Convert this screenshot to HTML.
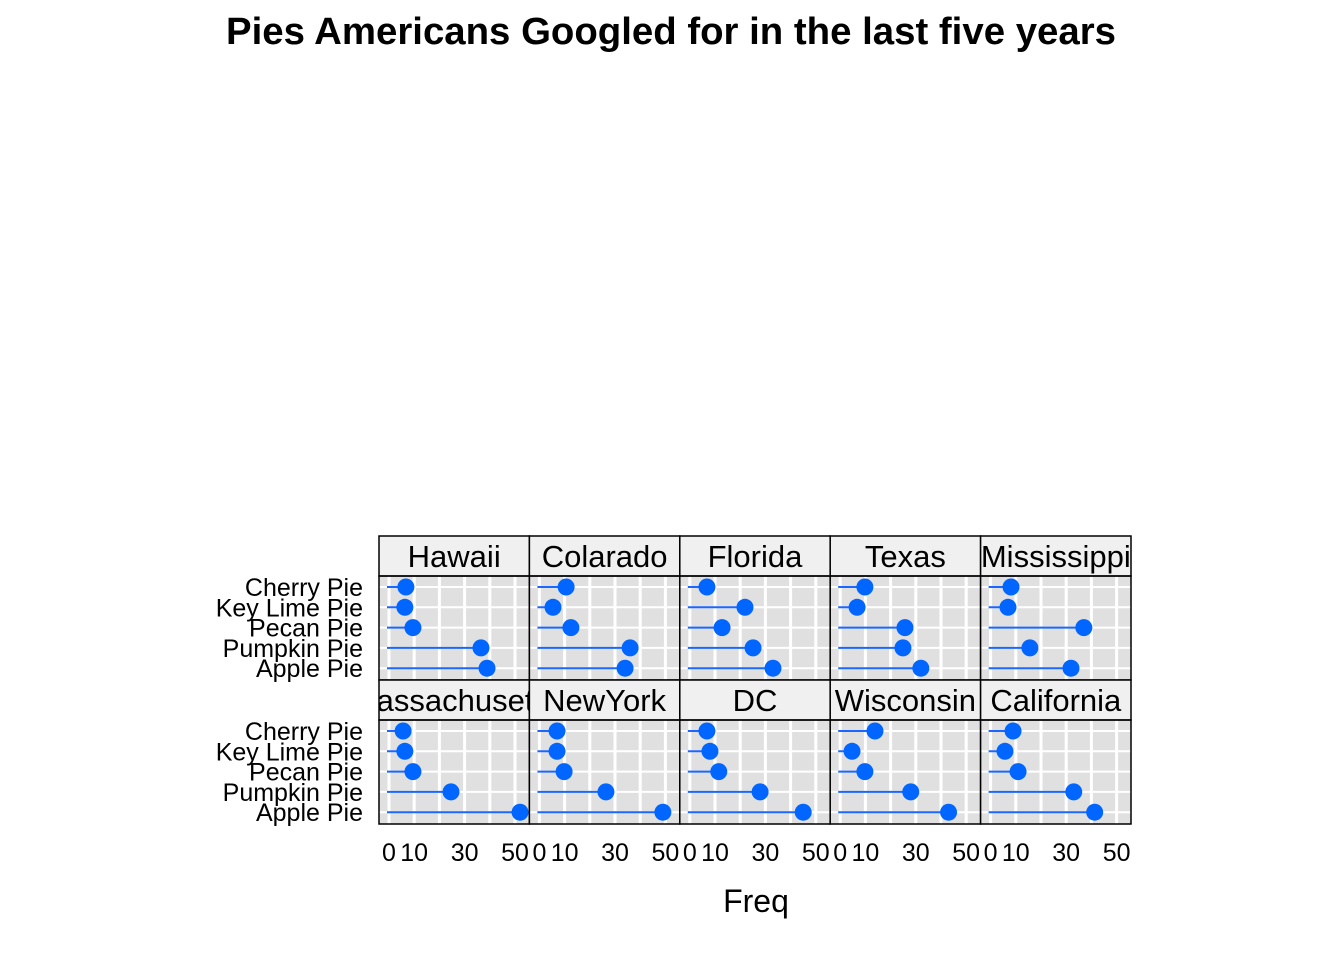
<!DOCTYPE html>
<html><head><meta charset="utf-8"><style>
body{margin:0;background:#fff;}
svg{display:block;font-family:"Liberation Sans",Arial,sans-serif;}
</style></head><body>
<svg id="chart" width="1344" height="960">
<text x="671" y="44" text-anchor="middle" font-size="38" font-weight="bold" textLength="890" lengthAdjust="spacingAndGlyphs">Pies Americans Googled for in the last five years</text>
<text x="756" y="912" text-anchor="middle" font-size="32">Freq</text>
<g id="plot"></g>
</svg>
<script>
const states = ["Hawaii","Colarado","Florida","Texas","Mississippi","Massachusetts","NewYork","DC","Wisconsin","California"];
const pies = ["Cherry Pie","Key Lime Pie","Pecan Pie","Pumpkin Pie","Apple Pie"];
const cherry = [6.7,10.6,6.8,9.8,8.1,5.6,7,6.8,13.8,8.9];
const keyLime = [6.3,5.4,21.9,6.7,6.9,6.3,7,8,4.7,5.7];
const pecan = [9.5,12.5,12.8,25.7,37,9.5,9.8,11.5,9.8,10.9];
const pumpkin = [36.5,36,25.1,24.9,15.6,24.6,26.4,27.9,28,33];
const apple = [38.9,34,33,32,31.9,52,49,45,43,41.3];
const xTicks = [0,10,30,50];
const gridTicks = [0,10,20,30,40,50];

const series = [cherry,keyLime,pecan,pumpkin,apple];
const NS="http://www.w3.org/2000/svg";
const g=document.getElementById('plot');
const L=379, PW=150.4, rowTop=[536,680], stripH=40, panelH=104;
function mk(t,a,p){const e=document.createElementNS(NS,t);for(const k in a)e.setAttribute(k,a[k]);(p||g).appendChild(e);return e;}
function xs(v,col){return L+col*PW+10+v*2.52;}
function ys(i,row){return rowTop[row]+stripH+11+i*20.3;}
for(let s=0;s<states.length;s++){
  const row=Math.floor(s/5), col=s%5;
  const px=L+col*PW, top=rowTop[row];
  const pg=mk('g',{});
  
  
  mk('rect',{x:px,y:top+stripH,width:PW,height:panelH,fill:'#e0e0e0'},pg);
  for(const t of gridTicks){mk('line',{x1:xs(t,col),x2:xs(t,col),y1:top+stripH,y2:top+stripH+panelH,stroke:'#fff','stroke-width':3},pg);}
  for(let i=0;i<pies.length;i++){mk('line',{x1:px,x2:px+PW,y1:ys(i,row),y2:ys(i,row),stroke:'#fff','stroke-width':2},pg);}
  const cp=mk('clipPath',{id:'c'+s},pg);
  mk('rect',{x:px,y:top+stripH,width:PW,height:panelH},cp);
  for(let i=0;i<pies.length;i++){
    const v=series[i][s];
    const ln=mk('line',{x1:xs(0,col)-2,x2:xs(v,col),y1:ys(i,row),y2:ys(i,row),stroke:'#1a66ff','stroke-width':2,'clip-path':'url(#c'+s+')'},pg);
    
    
    const c=mk('circle',{cx:xs(v,col),cy:ys(i,row),r:8.5,fill:'#0066ff','clip-path':'url(#c'+s+')'},pg);
    
    
  }
  mk('rect',{x:px,y:top,width:PW,height:stripH,fill:'#f0f0f0',stroke:'#000','stroke-width':1.5},pg);
  const cs=mk('clipPath',{id:'s'+s},pg);
  mk('rect',{x:px,y:top,width:PW,height:stripH},cs);
  const st=mk('text',{x:px+PW/2,y:top+31,'text-anchor':'middle','font-size':31,'clip-path':'url(#s'+s+')'},pg);
  st.textContent=states[s];
  
  
  mk('rect',{x:px,y:top+stripH,width:PW,height:panelH,fill:'none',stroke:'#000','stroke-width':1.5},pg);
  if(col===0){
    for(let i=0;i<pies.length;i++){
      const yl=mk('text',{x:363,y:ys(i,row)+9,'text-anchor':'end','font-size':25},pg);
      yl.textContent=pies[i];
      
      
    }
  }
  if(row===1){
    for(const t of xTicks){
      const tl=mk('text',{x:xs(t,col),y:861,'text-anchor':'middle','font-size':25},pg);
      tl.textContent=t;
      
      
    }
  }
}
</script>
</body></html>
